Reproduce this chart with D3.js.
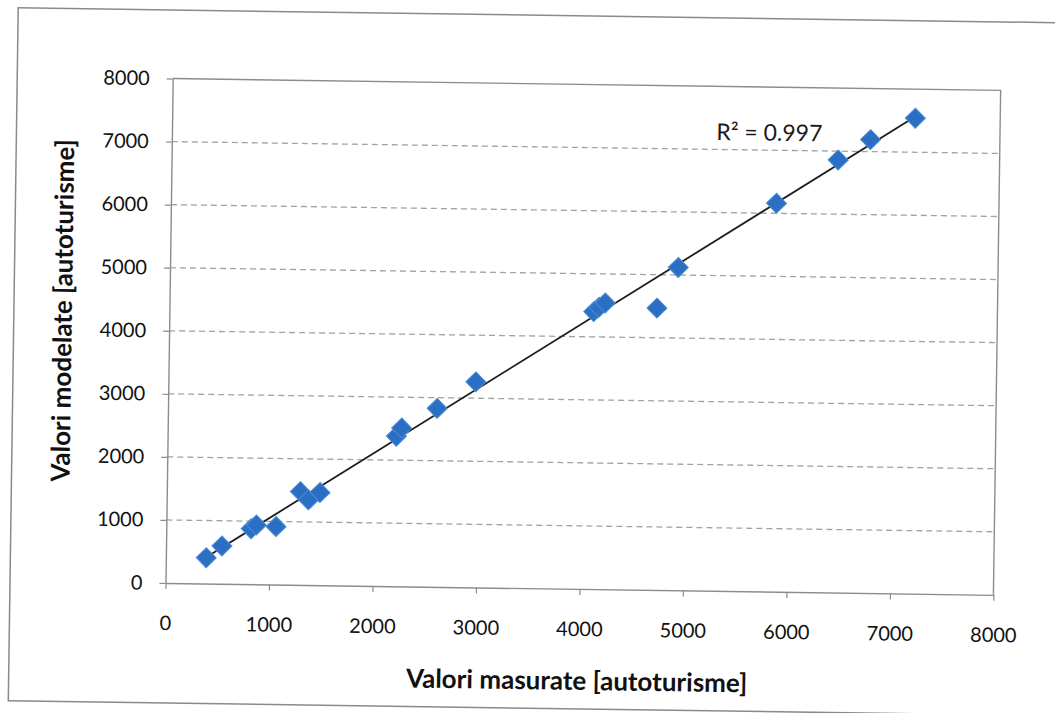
<!DOCTYPE html>
<html>
<head>
<meta charset="utf-8">
<script src="https://cdn.jsdelivr.net/npm/d3@7"></script>
<style>
  body { margin: 0; background: #fff; }
  svg { display: block; font-family: Lato, "Open Sans", sans-serif; }
</style>
</head>
<body>
<script>
// measured vs modelled values (passenger cars)
var measured = [390, 540, 820, 870, 1060, 1290, 1370, 1480, 2210, 2260, 2600, 2970, 4100, 4150, 4210, 4710, 4910, 5850, 6440, 6750, 7180];
var modelled = [410, 600, 880, 940, 920, 1480, 1350, 1470, 2380, 2510, 2830, 3260, 4400, 4470, 4540, 4470, 5120, 6160, 6860, 7190, 7540];
var xTicks = [0, 1000, 2000, 3000, 4000, 5000, 6000, 7000, 8000];
var yTicks = [0, 1000, 2000, 3000, 4000, 5000, 6000, 7000, 8000];
var r2Label = "R\u00B2 = 0.997";
var xTitle = "Valori masurate [autoturisme]";
var yTitle = "Valori modelate [autoturisme]";

var width = 1055, height = 713;
var plot = {left: 165.5, right: 993.5, top: 78.5, bottom: 583};
// the scanned page is a little tilted
var tilt = 0.82;

var data = measured.map(function(d, i) { return {x: d, y: modelled[i]}; });

var x = d3.scaleLinear().domain([0, 8000]).range([plot.left, plot.right]);
var y = d3.scaleLinear().domain([0, 8000]).range([plot.bottom, plot.top]);

var svg = d3.select('body')
            .append('svg')
            .attr('width', width)
            .attr('height', height);

var g = svg.append('g')
           .attr('transform', 'rotate(' + tilt + ',' + plot.left + ',' + plot.bottom + ')');

// outer chart frame
g.append('rect')
    .attr('x', 10).attr('y', 10)
    .attr('width', 1052).attr('height', 693)
    .attr('fill', 'none')
    .attr('stroke', '#8a8a8a')
    .attr('stroke-width', 1.5);

// dashed gridlines
g.append('g')
    .selectAll('line')
    .data(yTicks.filter(function(t) { return t > 0 && t < 8000; }))
    .enter()
    .append('line')
      .attr('x1', plot.left).attr('x2', plot.right)
      .attr('y1', function(d) { return y(d); })
      .attr('y2', function(d) { return y(d); })
      .attr('stroke', '#9ea3a6')
      .attr('stroke-width', 1.3)
      .attr('stroke-dasharray', '6,4');

// plot border (top / right)
g.append('path')
    .attr('d', 'M' + plot.left + ',' + plot.top + 'H' + plot.right + 'V' + plot.bottom)
    .attr('fill', 'none')
    .attr('stroke', '#8c8c8c')
    .attr('stroke-width', 1.4);

var fmt = d3.format('d');

// x axis
var xAxis = g.append('g')
    .attr('transform', 'translate(0,' + plot.bottom + ')')
    .call(d3.axisBottom(x).tickValues(xTicks).tickFormat(fmt).tickSize(6).tickPadding(27).tickSizeOuter(0));

// y axis
var yAxis = g.append('g')
    .attr('transform', 'translate(' + plot.left + ',0)')
    .call(d3.axisLeft(y).tickValues(yTicks).tickFormat(fmt).tickSize(6).tickPadding(17).tickSizeOuter(0));

[xAxis, yAxis].forEach(function(ax) {
    ax.select('.domain').attr('stroke', '#8c8c8c').attr('stroke-width', 1.4);
    ax.selectAll('.tick line').attr('stroke', '#8c8c8c').attr('stroke-width', 1.2);
    ax.selectAll('.tick text')
      .attr('fill', '#111')
      .style('font-size', '20px')
      .style('font-family', 'Lato, "Open Sans", sans-serif');
});

// linear trendline (least squares), over the measured range
var mx = d3.mean(measured), my = d3.mean(modelled);
var sxy = d3.sum(data, function(d) { return (d.x - mx) * (d.y - my); });
var sxx = d3.sum(data, function(d) { return (d.x - mx) * (d.x - mx); });
var slope = sxy / sxx, intercept = my - slope * mx;
var xExt = d3.extent(measured);

var trend = d3.line()
              .x(function(d) { return x(d); })
              .y(function(d) { return y(intercept + slope * d); });

g.append('path')
    .datum(xExt)
    .attr('d', trend)
    .attr('fill', 'none')
    .attr('stroke', '#1e1e1e')
    .attr('stroke-width', 1.8);

// diamond markers
g.append('g')
    .selectAll('path')
    .data(data)
    .enter()
    .append('path')
      .attr('d', d3.symbol(d3.symbolSquare, 200))
      .attr('transform', function(d) { return 'translate(' + x(d.x) + ',' + y(d.y) + ') rotate(45)'; })
      .attr('fill', '#2a6fc4')
      .attr('stroke', '#4a8ad6')
      .attr('stroke-width', 1);

// R^2 label
g.append('text')
    .attr('x', x(5260))
    .attr('y', y(7150))
    .style('font-size', '23px')
    .attr('fill', '#1a1a1a')
    .text(r2Label);

// axis titles
g.append('text')
    .attr('x', 578)
    .attr('y', 684)
    .attr('text-anchor', 'middle')
    .style('font-size', '26px')
    .style('font-weight', 'bold')
    .attr('fill', '#111')
    .text(xTitle);

g.append('text')
    .attr('transform', 'translate(68,312) rotate(-90)')
    .attr('text-anchor', 'middle')
    .style('font-size', '26px')
    .style('font-weight', 'bold')
    .attr('fill', '#111')
    .text(yTitle);
</script>
</body>
</html>
